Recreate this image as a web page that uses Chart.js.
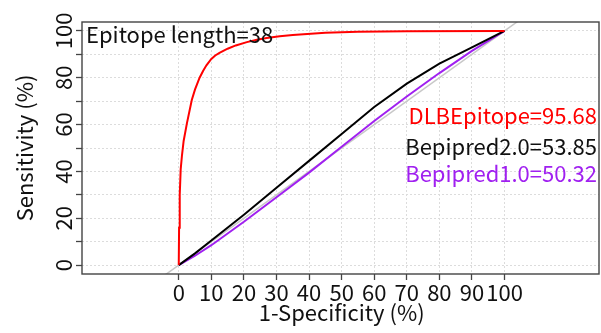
<!DOCTYPE html>
<html>
<head>
<meta charset="utf-8">
<script src="https://cdn.jsdelivr.net/npm/chart.js@4.4.1/dist/chart.umd.min.js"></script>
<style>
  html, body { margin: 0; padding: 0; background: #fff; }
</style>
</head>
<body>
<canvas id="roc" width="601" height="333"></canvas>
<script>
// axis ticks
const xTicks = [0, 10, 20, 30, 40, 50, 60, 70, 80, 90, 100];
const yTicks = [0, 10, 20, 30, 40, 50, 60, 70, 80, 90, 100];
const yLabels = [0, 20, 40, 60, 80, 100];

// ROC curves: 1-specificity (%) vs sensitivity (%)
const fprDLB = [0, 0.1, 0.3, 0.6, 1, 1.5, 2.5, 4, 5, 6.4, 7.5, 8.5, 10, 11.2, 12.5, 15, 17.5, 20.9, 24, 27, 31, 35, 45, 55, 70, 100];
const tprDLB = [0, 16, 30, 41, 47, 53, 60.5, 70.5, 75, 80, 83, 85.3, 88, 89.5, 90.6, 92.4, 93.8, 95.2, 96.2, 97, 97.7, 98.3, 99.2, 99.6, 99.85, 100];
const fprBp2 = [0, 5, 10, 20, 30, 40, 50, 60, 70, 80, 90, 100];
const tprBp2 = [0, 5, 10.5, 21.5, 33, 44.5, 56, 67.5, 77.5, 86, 93, 100];
const fprBp1 = [0, 5, 10, 20, 30, 40, 50, 60, 70, 80, 90, 100];
const tprBp1 = [0, 4, 8.5, 18.5, 29, 39.5, 50.5, 61.5, 72, 82, 91.5, 100];
const diagonal = [-30, 130];

const aucLabels = ['DLBEpitope=95.68', 'Bepipred2.0=53.85', 'Bepipred1.0=50.32'];
const lineColors = ['#ff0000', '#000000', '#a020f0'];
const panelLabel = 'Epitope length=38';
const xTitle = '1-Specificity (%)';
const yTitle = 'Sensitivity (%)';

const FONT = '"Noto Sans CJK SC", "Noto Sans", sans-serif';
const INK = '#111';
const AXIS = '#444';

const pts = (xs, ys) => xs.map((x, i) => ({ x, y: ys[i] }));

// box, rotated y labels, axis titles and AUC text
const annotate = {
  id: 'annotate',
  afterDraw(chart) {
    const { ctx, chartArea: a, scales: { x, y } } = chart;
    ctx.save();
    ctx.strokeStyle = AXIS;
    ctx.lineWidth = 1.4;
    ctx.strokeRect(a.left, a.top, a.right - a.left, a.bottom - a.top);

    ctx.fillStyle = INK;
    ctx.font = '22px ' + FONT;
    ctx.textAlign = 'center';
    ctx.textBaseline = 'alphabetic';
    yLabels.forEach(v => {
      ctx.save();
      ctx.translate(72, y.getPixelForValue(v));
      ctx.rotate(-Math.PI / 2);
      ctx.fillText(String(v), 0, 0);
      ctx.restore();
    });

    ctx.save();
    ctx.translate(33, y.getPixelForValue(50));
    ctx.rotate(-Math.PI / 2);
    ctx.fillText(yTitle, 0, 0);
    ctx.restore();

    ctx.fillText(xTitle, x.getPixelForValue(50), 321);

    ctx.textAlign = 'left';
    ctx.fillText(panelLabel, 86, 42.5);

    ctx.textAlign = 'right';
    const base = [124.3, 155, 182.3];
    aucLabels.forEach((t, i) => {
      ctx.fillStyle = lineColors[i] === '#000000' ? INK : lineColors[i];
      ctx.fillText(t, 597, base[i]);
    });
    ctx.restore();
  }
};

const lineSet = (data, color, order) => ({
  data, borderColor: color, borderWidth: 2, showLine: true,
  pointRadius: 0, tension: 0, order
});

new Chart(document.getElementById('roc'), {
  type: 'scatter',
  data: {
    datasets: [
      lineSet(pts(fprDLB, tprDLB), lineColors[0], 1),
      lineSet(pts(fprBp2, tprBp2), lineColors[1], 2),
      lineSet(pts(fprBp1, tprBp1), lineColors[2], 3),
      { ...lineSet(pts(diagonal, diagonal), '#c8c8c8', 4), borderWidth: 1.5 }
    ]
  },
  options: {
    responsive: false,
    devicePixelRatio: 1,
    animation: false,
    layout: { padding: { top: 22, right: 2, left: 0, bottom: 0 } },
    plugins: { legend: { display: false }, tooltip: { enabled: false } },
    scales: {
      x: {
        type: 'linear', min: -29.7, max: 129,
        afterBuildTicks: s => { s.ticks = xTicks.map(v => ({ value: v })); },
        afterFit: s => { s.height = 59; },
        grid: { color: '#dcdcdc', lineWidth: 1, tickLength: 6, tickColor: AXIS, tickWidth: 1.3 },
        border: { display: false, dash: [2, 2] },
        ticks: { color: INK, font: { family: FONT, size: 22 }, padding: -1, maxRotation: 0, autoSkip: false }
      },
      y: {
        type: 'linear', min: -3.8, max: 103.8,
        afterBuildTicks: s => { s.ticks = yTicks.map(v => ({ value: v })); },
        afterFit: s => { s.width = 82; },
        grid: { color: '#dcdcdc', lineWidth: 1, tickLength: 6, tickColor: AXIS, tickWidth: 1.3 },
        border: { display: false, dash: [2, 2] },
        ticks: { display: false }
      }
    }
  },
  plugins: [annotate]
});
</script>
</body>
</html>
